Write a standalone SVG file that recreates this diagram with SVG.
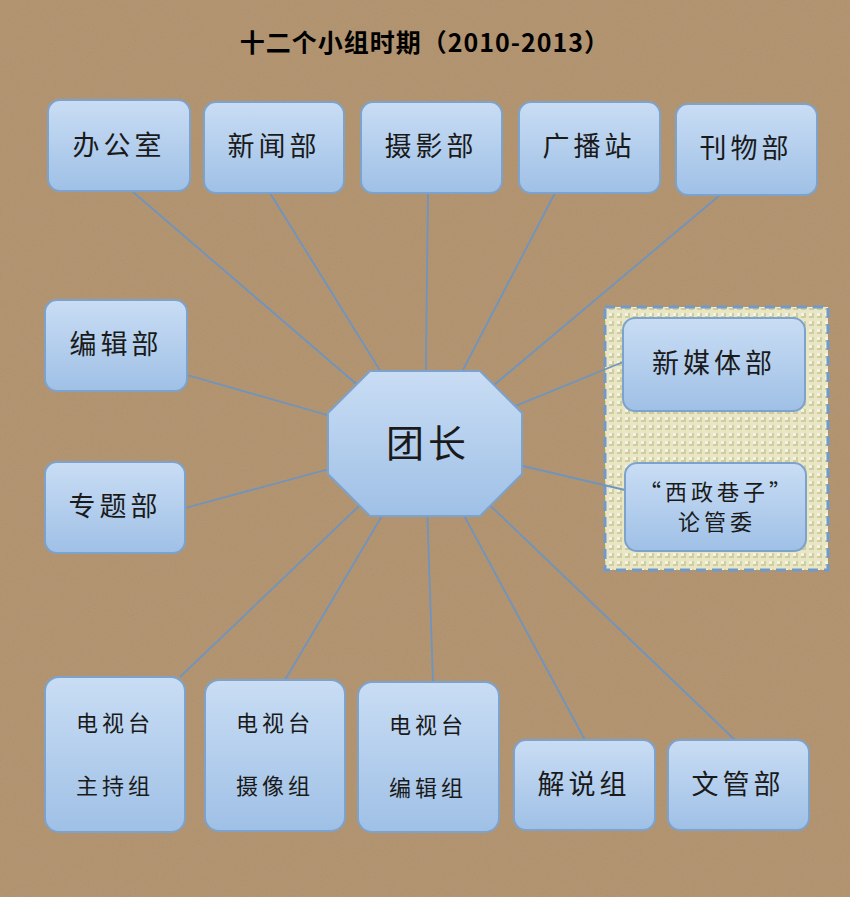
<svg xmlns="http://www.w3.org/2000/svg" width="850" height="897" viewBox="0 0 850 897">
<defs>
<linearGradient id="g" x1="0" y1="0" x2="0" y2="1"><stop offset="0" stop-color="#c9ddf4"/><stop offset="1" stop-color="#9fc0e6"/></linearGradient>
<pattern id="grid" width="8" height="8" patternUnits="userSpaceOnUse"><rect width="8" height="8" fill="#e8e6c4"/><rect x="1" y="1" width="5" height="5" fill="#cfcca0"/><rect x="1" y="1" width="3" height="3" fill="#f4f3e0"/></pattern>
<filter id="noise"><feTurbulence type="fractalNoise" baseFrequency="0.6" numOctaves="3" seed="3"/><feColorMatrix values="0 0 0 0 0.35 0 0 0 0 0.27 0 0 0 0 0.18 0 0 0 -2.5 1.2"/></filter>
</defs>
<style>
.n{fill:url(#g);stroke:#7da2cc;stroke-width:2}
.t{font-family:"Noto Sans CJK SC",sans-serif;font-size:27px;fill:#1a1a1a;text-anchor:middle;letter-spacing:4px}
.s{font-size:22px}
#connectors line{stroke:#6f94bf;stroke-width:1.8}
</style>
<rect width="850" height="897" fill="#b39470"/>
<rect width="850" height="897" filter="url(#noise)" opacity="0.5"/>
<text x="425" y="52" class="t" style="font-size:25px;letter-spacing:1px;font-weight:bold;fill:#000">十二个小组时期（2010-2013）</text>
<rect x="605" y="307" width="223" height="263" fill="url(#grid)" stroke="#6f9acb" stroke-width="3" stroke-dasharray="10,6"/>
<g id="connectors">
<line x1="133" y1="192" x2="425" y2="443"/>
<line x1="270" y1="193" x2="425" y2="443"/>
<line x1="428" y1="193" x2="425" y2="443"/>
<line x1="555" y1="193" x2="425" y2="443"/>
<line x1="720" y1="195" x2="425" y2="443"/>
<line x1="187" y1="375" x2="425" y2="443"/>
<line x1="185" y1="508" x2="425" y2="443"/>
<line x1="623" y1="362" x2="425" y2="443"/>
<line x1="625" y1="490" x2="425" y2="443"/>
<line x1="180" y1="677" x2="425" y2="443"/>
<line x1="285" y1="680" x2="425" y2="443"/>
<line x1="433" y1="682" x2="425" y2="443"/>
<line x1="585" y1="740" x2="425" y2="443"/>
<line x1="735" y1="740" x2="425" y2="443"/>
</g>
<g id="n1"><rect class="n" x="48" y="100" width="142" height="91" rx="12"/><text class="t" x="119" y="155">办公室</text></g>
<g id="n2"><rect class="n" x="204" y="102" width="140" height="91" rx="12"/><text class="t" x="274" y="156">新闻部</text></g>
<g id="n3"><rect class="n" x="361" y="102" width="141" height="91" rx="12"/><text class="t" x="431" y="156">摄影部</text></g>
<g id="n4"><rect class="n" x="519" y="102" width="141" height="91" rx="12"/><text class="t" x="589" y="156">广播站</text></g>
<g id="n5"><rect class="n" x="676" y="104" width="141" height="91" rx="12"/><text class="t" x="746" y="158">刊物部</text></g>
<g id="n6"><rect class="n" x="45" y="300" width="142" height="91" rx="12"/><text class="t" x="116" y="354">编辑部</text></g>
<g id="n7"><rect class="n" x="45" y="462" width="140" height="91" rx="12"/><text class="t" x="115" y="516">专题部</text></g>
<g id="n8"><rect class="n" x="623" y="318" width="182" height="93" rx="12"/><text class="t" x="714" y="373">新媒体部</text></g>
<g id="n9"><rect class="n" x="625" y="463" width="181" height="88" rx="12"/><text class="t s" x="717" y="500">“西政巷子”</text><text class="t s" x="717" y="530">论管委</text></g>
<g id="n10"><rect class="n" x="45" y="677" width="140" height="155" rx="14"/><text class="t s" x="115" y="731">电视台</text><text class="t s" x="115" y="794">主持组</text></g>
<g id="n11"><rect class="n" x="205" y="680" width="140" height="151" rx="14"/><text class="t s" x="275" y="731">电视台</text><text class="t s" x="275" y="794">摄像组</text></g>
<g id="n12"><rect class="n" x="358" y="682" width="141" height="150" rx="14"/><text class="t s" x="428" y="733">电视台</text><text class="t s" x="428" y="796">编辑组</text></g>
<g id="n13"><rect class="n" x="514" y="740" width="141" height="90" rx="12"/><text class="t" x="584" y="794">解说组</text></g>
<g id="n14"><rect class="n" x="668" y="740" width="141" height="90" rx="12"/><text class="t" x="738" y="794">文管部</text></g>
<g id="center"><polygon class="n" points="370,371 480,371 522,413 522,474 480,516 370,516 328,474 328,413"/><text class="t" x="428" y="457" style="font-size:38px">团长</text></g>
</svg>
